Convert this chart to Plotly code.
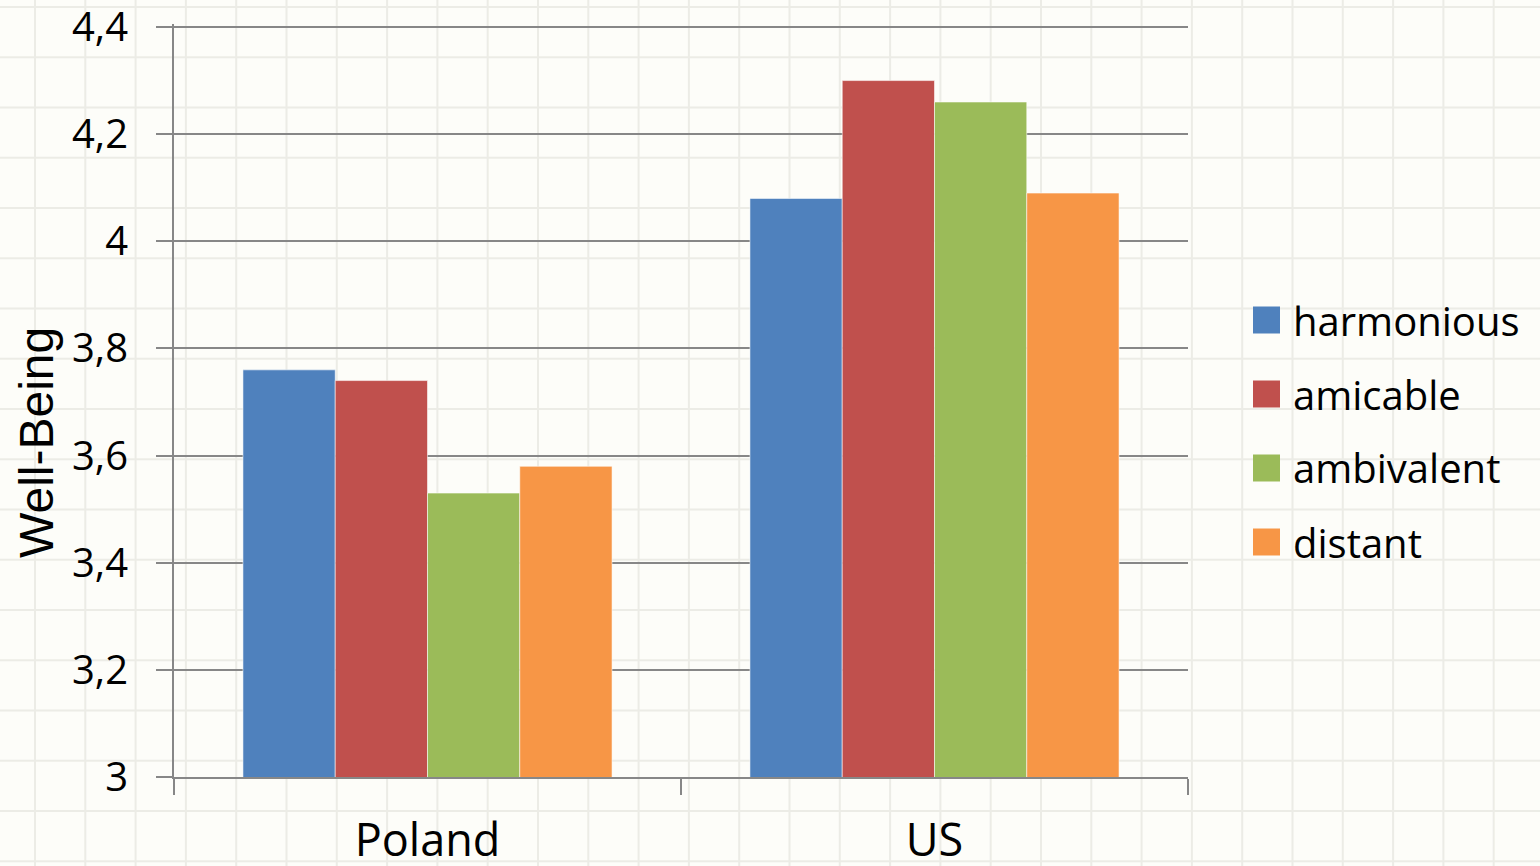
import plotly.graph_objects as go

# Well-being by relationship type, two countries
countries = ["Poland", "US"]
series_names = ["harmonious", "amicable", "ambivalent", "distant"]
harmonious = [3.76, 4.08]
amicable = [3.74, 4.30]
ambivalent = [3.53, 4.26]
distant = [3.58, 4.09]
y_ticks = [3.0, 3.2, 3.4, 3.6, 3.8, 4.0, 4.2, 4.4]

series_values = [harmonious, amicable, ambivalent, distant]
colors = ["#4F81BD", "#C0504D", "#9BBB59", "#F79646"]

W, H = 1540, 866
L, R, B = 174, 1188, 777          # plot area edges in pixels
TOP_TICK_PX = 27                   # pixel row of the 4,4 gridline
T = 24                             # plot top, a little above the last gridline
y_min, y_top_tick = 3.0, 4.4
px_per_unit = (B - TOP_TICK_PX) / (y_top_tick - y_min)
y_max = y_top_tick + (TOP_TICK_PX - T) / px_per_unit


def px_x(px):
    return (px - L) / (R - L)


def px_y(py):
    return (B - py) / (B - T)


fig = go.Figure()
for name, vals, col in zip(series_names, series_values, colors):
    fig.add_trace(go.Bar(
        x=countries, y=vals, name=name,
        marker=dict(color=col, line=dict(color="rgba(255,255,255,0.55)", width=1)),
        showlegend=False,
    ))

shapes = []
# faint graph-paper background
grid_col = "#ECECE6"
k = 0
while 35 + 50.3 * k < W:
    x = px_x(35 + 50.3 * k)
    shapes.append(dict(type="line", xref="paper", yref="paper", x0=x, x1=x,
                       y0=px_y(H), y1=px_y(0), line=dict(color=grid_col, width=2),
                       layer="below"))
    k += 1
k = 0
while 7 + 50.25 * k < H:
    y = px_y(7 + 50.25 * k)
    shapes.append(dict(type="line", xref="paper", yref="paper", x0=px_x(0), x1=px_x(W),
                       y0=y, y1=y, line=dict(color=grid_col, width=2), layer="below"))
    k += 1

annotations = []
# legend drawn as squares with labels
row_y = [320, 394, 468, 542]
for name, col, cy in zip(series_names, colors, row_y):
    shapes.append(dict(type="rect", xref="paper", yref="paper",
                       x0=px_x(1253), x1=px_x(1280), y0=px_y(cy + 13.5), y1=px_y(cy - 13.5),
                       fillcolor=col, line=dict(width=0), layer="above"))
    annotations.append(dict(xref="paper", yref="paper", x=px_x(1291), y=px_y(cy),
                            xanchor="left", yanchor="middle", text=name, showarrow=False,
                            font=dict(family="Open Sans", size=40, color="#000000")))

# y-axis title
annotations.append(dict(xref="paper", yref="paper", x=px_x(37), y=px_y(443),
                        xanchor="center", yanchor="middle", text="Well-Being",
                        textangle=-90, showarrow=False,
                        font=dict(family="Liberation Sans", size=48, color="#000000")))

axis_col = "#878787"
fig.update_layout(
    width=W, height=H,
    margin=dict(l=L, r=W - R, t=T, b=H - B, pad=0),
    paper_bgcolor="#FDFDF9",
    plot_bgcolor="rgba(0,0,0,0)",
    barmode="group",
    bargap=0.272,
    bargroupgap=0,
    separators=", ",
    shapes=shapes,
    annotations=annotations,
    xaxis=dict(
        tickson="boundaries", ticks="outside", ticklen=16, tickwidth=2, tickcolor=axis_col,
        showline=True, linecolor=axis_col, linewidth=2, showgrid=False,
        tickfont=dict(family="Open Sans", size=45, color="#000000"),
        ticklabelstandoff=23, automargin=False, ticklabeloverflow="allow",
    ),
    yaxis=dict(
        range=[y_min, y_max], tickvals=y_ticks, ticks="outside", ticklen=16, tickwidth=2,
        tickcolor=axis_col, showline=True, linecolor=axis_col, linewidth=2,
        showgrid=True, gridcolor=axis_col, gridwidth=2, zeroline=False,
        tickfont=dict(family="Open Sans", size=40, color="#000000"),
        ticklabelstandoff=20, automargin=False, ticklabeloverflow="allow",
    ),
)

fig.write_html("out.html")
